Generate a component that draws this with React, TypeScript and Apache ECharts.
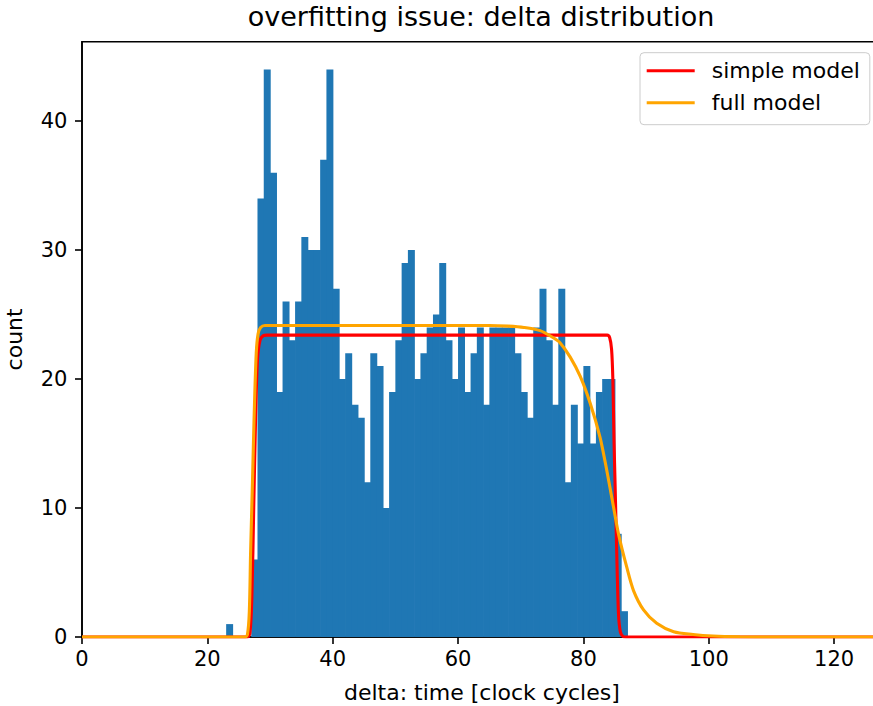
import React, { useEffect, useRef } from "react";
import * as echarts from "echarts";

// Histogram: bins of width 1 starting at 23
const binStart = 23;
const binWidth = 1;
const counts = [
  1, 0, 0, 0, 6, 34, 44, 36, 19, 26, 23, 26, 31, 30, 30, 37, 44, 27, 20, 22,
  18, 17, 12, 22, 21, 10, 19, 23, 29, 30, 20, 22, 24, 25, 29, 23, 20, 24, 19,
  22, 24, 18, 24, 24, 24, 24, 22, 19, 17, 24, 27, 23, 18, 27, 12, 18, 15, 21,
  15, 19, 20, 20, 8, 2,
];

// Model curves: [x, y]
const simpleModel: number[][] = [
  [0, 0], [26.4, 0], [26.8, 0.3], [27.1, 3], [27.4, 10], [27.7, 17], [28.0, 21.5],
  [28.4, 23.0], [28.9, 23.35], [29.5, 23.4], [83.8, 23.4], [84.2, 23.2], [84.5, 22.3],
  [84.7, 20], [84.9, 15], [85.05, 12], [85.3, 7], [85.6, 1.8], [85.9, 0.4],
  [86.3, 0.05], [86.8, 0], [127.6, 0],
];
const fullModel: number[][] = [
  [0, 0], [26.0, 0], [26.4, 0.2], [26.7, 2], [26.9, 6.5], [27.2, 12], [27.45, 16.8],
  [27.8, 22], [28.1, 23.5], [28.5, 24.0], [29.2, 24.15], [65, 24.15], [68, 24.1],
  [70.5, 24.0], [73.1, 23.75], [75.2, 23.2], [76.3, 22.8], [77.9, 21.7], [79.5, 20.2],
  [81.1, 18.1], [82.65, 15.5], [83.7, 13.0], [84.8, 10.1], [85.6, 8.0], [86.9, 5.45],
  [88.0, 3.6], [89.6, 2.1], [91.7, 1.06], [94.4, 0.41], [97.5, 0.2], [100.7, 0.08],
  [105, 0.02], [110, 0], [127.6, 0],
];

const xTicks = [0, 20, 40, 60, 80, 100, 120];
const yTicks = [0, 10, 20, 30, 40];

const FONT = "DejaVu Sans";

export default function App() {
  const ref = useRef<HTMLDivElement>(null);
  useEffect(() => {
    if (!ref.current) return;
    const chart = echarts.init(ref.current, undefined, { renderer: "svg" });
    const histData = counts.map((c, i) => [binStart + i * binWidth, c]);
    const axisCommon = {
      axisLine: { show: true, lineStyle: { color: "#000", width: 1.6 } },
      axisTick: { show: true, inside: false, length: 7, lineStyle: { color: "#000", width: 1.6 } },
      splitLine: { show: false },
    };
    chart.setOption({
      animation: false,
      backgroundColor: "#fff",
      title: {
        text: "overfitting issue: delta distribution",
        left: 481,
        textAlign: "center",
        top: 3,
        padding: 0,
        textStyle: { fontFamily: FONT, fontSize: 27, fontWeight: "normal", color: "#000" },
      },
      legend: {
        orient: "vertical",
        left: 640,
        top: 52.7,
        padding: [6, 10, 10, 6.7],
        itemWidth: 48,
        itemHeight: 3,
        itemGap: 8,
        icon: "rect",
        borderColor: "#cccccc",
        borderWidth: 1,
        borderRadius: 4,
        backgroundColor: "rgba(255,255,255,0.8)",
        textStyle: { fontFamily: FONT, fontSize: 22, color: "#000", lineHeight: 24, padding: [0, 0, 0, 12] },
        data: ["simple model", "full model"],
      },
      grid: {
        left: 82,
        top: 41.7,
        width: 799.7,
        bottom: 69,
        show: true,
        borderColor: "#000",
        borderWidth: 1.6,
        containLabel: false,
        outerBoundsMode: "none",
      },
      xAxis: {
        type: "value",
        min: 0,
        max: 127.6,
        interval: 20,
        name: "delta: time [clock cycles]",
        nameLocation: "middle",
        nameGap: 44,
        nameTextStyle: { fontFamily: FONT, fontSize: 22, color: "#000" },
        ...axisCommon,
        axisTick: { ...axisCommon.axisTick, customValues: xTicks },
        axisLabel: { customValues: xTicks, margin: 11, fontFamily: FONT, fontSize: 21, color: "#000" },
      },
      yAxis: {
        type: "value",
        min: 0,
        max: 46.15,
        interval: 10,
        name: "count",
        nameLocation: "middle",
        nameGap: 57,
        nameTextStyle: { fontFamily: FONT, fontSize: 22, color: "#000" },
        ...axisCommon,
        axisTick: { ...axisCommon.axisTick, customValues: yTicks },
        axisLabel: { customValues: yTicks, margin: 14.6, fontFamily: FONT, fontSize: 21, color: "#000" },
      },
      series: [
        {
          type: "custom",
          name: "delta",
          data: histData,
          encode: { x: 0, y: 1 },
          renderItem: (params: any, api: any) => {
            const x0 = api.value(0);
            const y = api.value(1);
            const p0 = api.coord([x0, 0]);
            const p1 = api.coord([x0 + binWidth, y]);
            return {
              type: "rect",
              shape: { x: p0[0], y: p1[1], width: p1[0] - p0[0] + 0.7, height: p0[1] - p1[1] },
              style: { fill: "#1f77b4" },
            };
          },
          z: 1,
        },
        {
          type: "line",
          name: "simple model",
          data: simpleModel,
          showSymbol: false,
          smooth: 0.3,
          lineStyle: { color: "#ff0000", width: 3.1 },
          itemStyle: { color: "#ff0000" },
          z: 2,
        },
        {
          type: "line",
          name: "full model",
          data: fullModel,
          showSymbol: false,
          smooth: 0.3,
          lineStyle: { color: "#ffa500", width: 3.1 },
          itemStyle: { color: "#ffa500" },
          z: 3,
        },
      ],
    });
    return () => chart.dispose();
  }, []);
  return (
    <div style={{ position: "fixed", left: 0, top: 0, width: 873, height: 706, overflow: "hidden", background: "#fff" }}>
      <div ref={ref} style={{ width: 890, height: 706 }} />
    </div>
  );
}
